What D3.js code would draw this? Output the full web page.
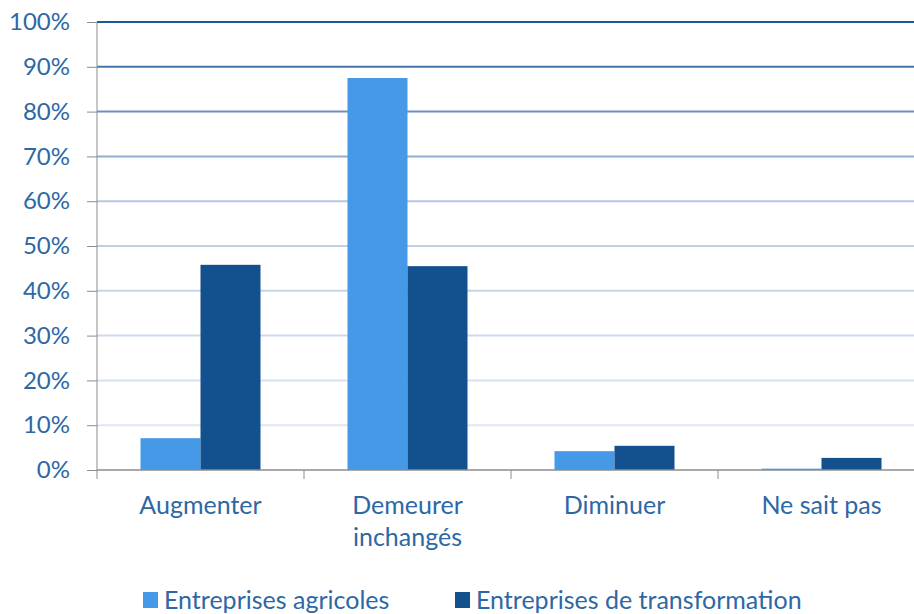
<!DOCTYPE html>
<html>
<head>
<meta charset="utf-8">
<script src="https://cdn.jsdelivr.net/npm/d3@7"></script>
<style>
  body { margin: 0; background: #fff; }
  text { font-family: Lato, "Open Sans", sans-serif; }
</style>
</head>
<body>
<svg id="chart" width="914" height="614"></svg>
<script>
// data
var categories = [["Augmenter"], ["Demeurer", "inchangés"], ["Diminuer"], ["Ne sait pas"]];
var seriesNames = ["Entreprises agricoles", "Entreprises de transformation"];
var agricoles = [7.1, 87.5, 4.2, 0.3];
var transformation = [45.8, 45.5, 5.4, 2.7];
var yTicks = [0, 10, 20, 30, 40, 50, 60, 70, 80, 90, 100];

var colors = ["#4599e6", "#12508e"];
var labelColor = "#2d68a5";

var svg = d3.select("#chart");
var x0 = 97, x1 = 925, yTop = 22, yBot = 470;

var x = d3.scaleBand().domain(d3.range(categories.length)).range([x0, x1]).paddingInner(0).paddingOuter(0);
var y = d3.scaleLinear().domain([0, 100]).range([yBot, yTop]);

// gridlines get darker toward the top
var gridColor = d3.scaleLinear().domain([10, 60, 100]).range(["#dfe7f3", "#b6c9e4", "#1f5797"]);
svg.append("g").selectAll("line").data(yTicks.filter(function(d){ return d > 0; })).enter().append("line")
  .attr("x1", x0).attr("x2", x1)
  .attr("y1", function(d){ return y(d); }).attr("y2", function(d){ return y(d); })
  .attr("stroke", function(d){ return gridColor(d); })
  .attr("stroke-width", 2);

// bars
var barW = 60;
var series = [agricoles, transformation];
series.forEach(function(vals, s) {
  svg.append("g").selectAll("rect").data(vals).enter().append("rect")
    .attr("x", function(d, i){ return x(i) + x.bandwidth()/2 - barW + s*barW; })
    .attr("width", barW)
    .attr("y", function(d){ return y(d); })
    .attr("height", function(d){ return yBot - y(d); })
    .attr("fill", colors[s]);
});

// y axis
var yAxis = svg.append("g").attr("transform", "translate(" + x0 + ",0)")
  .call(d3.axisLeft(y).tickValues(yTicks).tickSize(10).tickPadding(17).tickFormat(function(d){ return d + "%"; }));
yAxis.select(".domain").attr("stroke", "#8c8c8c").attr("d", "M0," + yTop + "V" + (yBot + 9));
yAxis.selectAll(".tick line").attr("stroke", "#8c8c8c");
yAxis.selectAll(".tick text").attr("fill", labelColor).attr("font-size", 24).attr("font-family", "Lato, sans-serif");

// x axis
var xAxis = svg.append("g").attr("transform", "translate(0," + yBot + ")")
  .call(d3.axisBottom(x).tickSize(0).tickFormat(""));
xAxis.select(".domain").attr("stroke", "#8c8c8c").attr("stroke-width", 1.5).attr("d", "M" + x0 + ",0H" + x1);
svg.append("g").selectAll("line").data(d3.range(1, categories.length)).enter().append("line")
  .attr("x1", function(d){ return x(d); }).attr("x2", function(d){ return x(d); })
  .attr("y1", yBot).attr("y2", yBot + 9)
  .attr("stroke", "#8c8c8c");

var lbl = svg.append("g").selectAll("text").data(categories).enter().append("text")
  .attr("x", function(d, i){ return x(i) + x.bandwidth()/2; })
  .attr("y", 514)
  .attr("text-anchor", "middle")
  .attr("font-size", 25)
  .attr("fill", labelColor);
lbl.each(function(lines) {
  var t = d3.select(this);
  lines.forEach(function(l, k) {
    t.append("tspan").attr("x", t.attr("x")).attr("dy", k === 0 ? 0 : 32).text(l);
  });
});

// legend
var legX = [143, 455];
var leg = svg.append("g").selectAll("g").data(seriesNames).enter().append("g")
  .attr("transform", function(d, i){ return "translate(" + legX[i] + ",592)"; });
leg.append("rect").attr("width", 15).attr("height", 16).attr("fill", function(d, i){ return colors[i]; });
leg.append("text").attr("x", 21).attr("y", 17).attr("font-size", 25).attr("fill", labelColor)
  .text(function(d){ return d; });
</script>
</body>
</html>
